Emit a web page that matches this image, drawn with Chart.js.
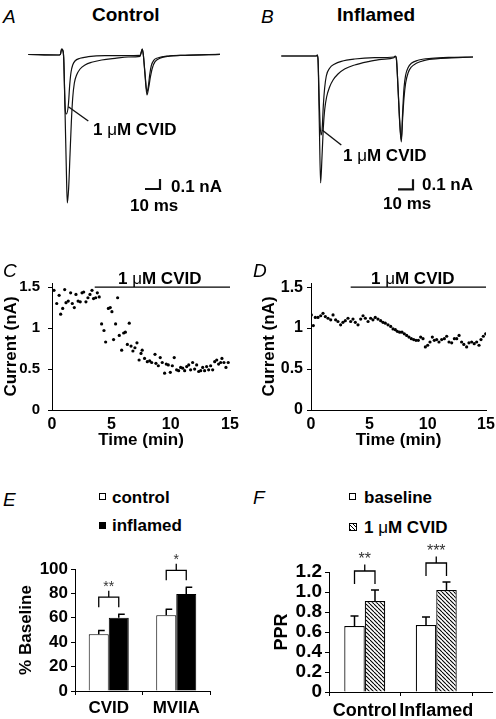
<!DOCTYPE html>
<html><head><meta charset="utf-8">
<script src="https://cdn.jsdelivr.net/npm/chart.js@4.4.1/dist/chart.umd.min.js"></script>
<style>
html,body{margin:0;padding:0;background:#fff;}
#page{position:relative;width:496px;height:719px;overflow:hidden;font-family:"Liberation Sans",Arial,Helvetica,sans-serif;color:#000;}
canvas{position:absolute;}
.t{position:absolute;white-space:nowrap;font-weight:bold;line-height:1;font-size:17px;}
.big{font-size:19px;}
.lt{position:absolute;font-style:italic;font-weight:normal;line-height:1;font-size:19px;}
.mu{font-weight:normal;}
.box{position:absolute;width:7px;height:7px;box-sizing:border-box;border:1px solid #000;background:#fff;}
</style></head><body><div id="page">
<canvas id="cA" width="200" height="170" style="left:25px;top:45px"></canvas>
<canvas id="cB" width="200" height="170" style="left:278px;top:45px"></canvas>
<canvas id="cC" width="245" height="195" style="left:0px;top:260px"></canvas>
<canvas id="cD" width="246" height="195" style="left:250px;top:260px"></canvas>
<canvas id="cE" width="230" height="179" style="left:0px;top:540px"></canvas>
<canvas id="cF" width="246" height="179" style="left:250px;top:540px"></canvas>

<div class="lt" style="left:3px;top:6.7px">A</div>
<div class="t big" style="left:92px;top:4.7px">Control</div>
<div class="lt" style="left:261px;top:6.7px">B</div>
<div class="t big" style="left:337px;top:4.7px">Inflamed</div>
<div class="t" style="left:93px;top:121.2px">1 <span class="mu">μ</span>M CVID</div>
<div class="t" style="left:171px;top:177.7px">0.1 nA</div>
<div class="t" style="left:130px;top:196.7px">10 ms</div>
<div class="t" style="left:343px;top:146.7px">1 <span class="mu">μ</span>M CVID</div>
<div class="t" style="left:422px;top:176.2px">0.1 nA</div>
<div class="t" style="left:383px;top:194.7px">10 ms</div>

<div class="lt" style="left:3px;top:260.7px">C</div>
<div class="lt" style="left:253px;top:260.7px">D</div>
<div class="t" style="left:118px;top:269.7px">1 <span class="mu">μ</span>M CVID</div>
<div class="t" style="left:371px;top:269.7px">1 <span class="mu">μ</span>M CVID</div>

<div class="lt" style="left:3px;top:489.7px">E</div>
<div class="lt" style="left:253px;top:488.2px">F</div>
<div class="box" style="left:99px;top:493px"></div>
<div class="t" style="left:112px;top:488.7px">control</div>
<div class="box" style="left:99px;top:522px;background:#000"></div>
<div class="t" style="left:112px;top:516.7px">inflamed</div>
<div class="box" style="left:349px;top:493px"></div>
<div class="t" style="left:364px;top:488.7px">baseline</div>
<div class="box" style="left:349px;top:523px;width:8px;height:8px;background:repeating-linear-gradient(45deg,#000 0 1px,#fff 1px 3px)"></div>
<div class="t" style="left:364px;top:518.7px">1 <span class="mu">μ</span>M CVID</div>
</div>
<script>
// ================= DATA =================
// Panel A traces: time (ms), current (nA)
const traceACtrlT = [2.2, 22.2, 23.6, 24.4, 25.1, 25.8, 26.7, 27.6, 28.2, 29.1, 30.0, 30.9, 31.8, 32.9, 34.4, 36.7, 40.0, 44.4, 51.1, 60.0, 68.9, 76.7, 77.6, 78.2, 78.9, 80.0, 81.3, 82.4, 83.6, 84.9, 86.7, 90.0, 95.6, 106.7, 130.0];
const traceACtrlI = [0.005, 0, 0.007, 0.06, 0.05, -0.03, -0.57, -1.17, -1.48, -1.33, -1.0, -0.67, -0.43, -0.28, -0.2, -0.14, -0.1, -0.073, -0.05, -0.033, -0.02, -0.013, 0.033, 0.06, 0, -0.2, -0.4, -0.33, -0.22, -0.13, -0.067, -0.033, -0.013, -0.003, 0.007];
const traceACvidT = [2.2, 22.2, 23.6, 24.4, 25.1, 25.8, 26.7, 27.6, 28.9, 29.8, 30.7, 31.8, 33.3, 36.7, 42.2, 53.3, 76.7, 77.6, 78.2, 78.9, 80.0, 81.3, 82.2, 83.1, 84.2, 85.8, 88.9, 95.6, 106.7, 130.0];
const traceACvidI = [0.005, 0, 0.007, 0.06, 0.05, -0.03, -0.5, -0.59, -0.5, -0.3, -0.17, -0.1, -0.06, -0.033, -0.017, -0.007, -0.003, 0.033, 0.06, 0, -0.183, -0.367, -0.317, -0.2, -0.107, -0.053, -0.027, -0.01, -0.003, 0.007];
// Panel B traces
const traceBCtrlT = [2.2, 25.6, 26.2, 26.7, 27.6, 28.4, 29.3, 30.2, 31.1, 32.4, 34.4, 36.7, 40.0, 44.4, 51.1, 60.0, 68.9, 77.3, 78.2, 78.9, 80.0, 81.1, 82.2, 83.1, 84.0, 85.1, 86.7, 88.9, 92.2, 97.8, 106.7, 120.0, 130.0];
const traceBCtrlI = [0, 0, 0.01, -0.04, -0.72, -1.27, -1.02, -0.72, -0.54, -0.41, -0.31, -0.24, -0.18, -0.13, -0.09, -0.057, -0.033, -0.017, -0.003, -0.023, -0.32, -0.66, -0.86, -0.62, -0.42, -0.27, -0.17, -0.11, -0.073, -0.043, -0.027, -0.017, -0.01];
const traceBCvidT = [2.2, 25.6, 26.2, 26.7, 27.6, 28.6, 29.4, 30.2, 31.1, 32.2, 34.4, 37.8, 42.2, 51.1, 64.4, 77.3, 78.2, 78.9, 80.0, 81.1, 82.2, 83.1, 84.0, 85.1, 86.7, 88.9, 93.3, 102.2, 115.6, 130.0];
const traceBCvidI = [0, 0, 0.01, -0.04, -0.5, -0.79, -0.74, -0.5, -0.32, -0.2, -0.123, -0.08, -0.053, -0.03, -0.017, -0.01, 0, -0.023, -0.31, -0.64, -0.84, -0.56, -0.32, -0.19, -0.117, -0.073, -0.043, -0.023, -0.013, -0.01];
// scale bars (10 ms, 0.1 nA) and label pointers
const scaleBarT = [80, 90, 90];
const scaleBarAI = [-1.34, -1.34, -1.24];
const scaleBarBI = [-1.333, -1.333, -1.233];
const pointerAT = [28.9, 42.2], pointerAI = [-0.517, -0.66];
const pointerBT = [29.4, 42.2], pointerBI = [-0.74, -0.89];

// Panel C: time (min), current (nA)
const timeC = [0.17,0.40,0.60,0.73,0.90, 1.07,1.18,1.37,1.57,1.71,1.88, 2.02,2.20,2.38,2.53,2.67,2.86,
  3.03,3.20,3.37,3.50,3.68,3.82,3.98, 4.18,4.38,4.52,4.75,4.91, 5.05,5.19,5.36,5.53,5.67,5.87,
  6.04,6.18,6.35,6.51,6.66,6.82,6.99, 7.16,7.34,7.50,7.60,7.80, 8.03,8.23,8.40,8.68,8.76,8.96,
  9.12,9.29,9.49,9.63,9.80,9.97, 10.14,10.30,10.50,10.67,10.84, 11.01,11.18,11.35,11.52,11.68,11.85,
  12.02,12.19,12.36,12.53,12.70,12.86, 13.03,13.20,13.37,13.54,13.71,13.88, 14.04,14.21,14.32,14.49,14.66,14.85];
const currentC = [1.46,1.30,1.40,1.17,1.24, 1.47,1.31,1.33,1.43,1.30,1.25, 1.41,1.33,1.32,1.43,1.44,1.32,
  1.37,1.41,1.46,1.36,1.37,1.43,1.38, 1.05,0.97,0.83,1.24,1.25, 1.20,0.86,1.05,1.37,0.91,0.73,
  0.94,0.95,0.80,1.06,0.78,0.72,0.76, 0.82,0.61,0.69,0.73,0.63, 0.59,0.60,0.58,0.68,0.57,0.54,
  0.64,0.58,0.45,0.56,0.55,0.46, 0.54,0.64,0.49,0.48,0.52, 0.51,0.48,0.53,0.55,0.49,0.58,
  0.50,0.55,0.47,0.48,0.52,0.48, 0.53,0.49,0.54,0.49,0.59,0.61, 0.56,0.58,0.63,0.58,0.52,0.58];
// Panel D
const timeD = [0.03,0.20,0.37,0.60,0.83, 1.03,1.23,1.46,1.69,1.89, 2.11,2.31,2.54,2.74,2.94, 3.17,3.40,3.60,3.80,
  4.03,4.26,4.46,4.66,4.89, 5.11,5.31,5.51,5.74,5.97, 6.17,6.37,6.60,6.83, 7.03,7.23,
  7.40,7.60,7.80,8.00,8.20,8.40,8.60,8.80,9.00,9.20, 9.40,9.60,9.80,10.00,10.20,10.40,10.57,10.77,10.97,
  11.20,11.43,11.63,11.83, 12.06,12.29,12.49,12.69,12.91, 13.10,13.34,13.54,13.77,13.99, 14.20,14.40,14.57,14.77,14.97];
const currentD = [1.16,1.03,1.13,1.13,1.15, 1.18,1.14,1.12,1.10,1.16, 1.10,1.08,1.04,1.07,1.09, 1.12,1.08,1.11,1.07,
  1.04,1.11,1.15,1.12,1.08, 1.12,1.10,1.13,1.11,1.09, 1.07,1.06,1.04,1.02, 0.99,0.98,
  0.96,0.95,0.95,0.93,0.91,0.89,0.87,0.86,0.85,0.85, 0.89,0.87,0.77,0.79,0.83,0.89,0.85,0.86,0.83,
  0.86,0.87,0.90,0.83, 0.82,0.87,0.87,0.91,0.83, 0.80,0.77,0.82,0.83,0.81, 0.83,0.79,0.86,0.90,0.93];
const drugC = [3.6, 15], drugD = [3.4, 15], drugLevel = 1.5;
const timeTickVals = [0, 5, 10, 15], timeTickLabels = ["0", "5", "10", "15"];
const currTickVals = [0, 0.5, 1, 1.5], currTickLabels = ["0", "0.5", "1", "1.5"];

// Panel E
const catE = ["CVID", "MVIIA"];
const controlE = [46.5, 62], controlErrE = [3, 5];
const inflamedE = [60, 79.5], inflamedErrE = [3, 5.5];
const sigE = ["**", "*"];
const tickValsE = [0, 20, 40, 60, 80, 100], tickLabelsE = ["0", "20", "40", "60", "80", "100"];
// Panel F
const catF = ["Control", "Inflamed"];
const baselineF = [0.66, 0.67], baselineErrF = [0.10, 0.08];
const cvidF = [0.91, 1.02], cvidErrF = [0.11, 0.08];
const sigF = ["**", "***"];
const tickValsF = [0, 0.2, 0.4, 0.6, 0.8, 1.0, 1.2], tickLabelsF = ["0", "0.2", "0.4", "0.6", "0.8", "1.0", "1.2"];

// ================= CHARTS =================
const FAM = '"Liberation Sans", Arial, Helvetica, sans-serif';
Chart.defaults.font.family = FAM;
Chart.defaults.font.weight = 'bold';
Chart.defaults.color = '#000';
Chart.defaults.layout.autoPadding = false;
Chart.defaults.animation = false;
Chart.defaults.responsive = false;
Chart.defaults.devicePixelRatio = 1;
Chart.defaults.events = [];
Chart.defaults.plugins.legend.display = false;
Chart.defaults.plugins.tooltip.enabled = false;

const zip = (xs, ys) => xs.map((x, k) => ({x, y: ys[k]}));
const lookup = (vals, labels) => (v) => { const k = vals.findIndex(a => Math.abs(a - v) < 1e-6); return k < 0 ? '' : labels[k]; };
const f = (size, weight) => ({family: FAM, size, weight: weight || 'bold'});

function traceChart(id, sets, yMin, yMax) {
  return new Chart(document.getElementById(id), {
    type: 'line',
    data: {datasets: sets.map(s => ({
      data: zip(s.t, s.i), borderColor: '#111', borderWidth: s.w, pointRadius: 0,
      cubicInterpolationMode: s.smooth ? 'monotone' : 'default', tension: 0, fill: false
    }))},
    options: {
      layout: {padding: 0},
      scales: {
        x: {type: 'linear', display: false, min: 0, max: 133.33},
        y: {type: 'linear', display: false, min: yMin, max: yMax}
      }
    }
  });
}
traceChart('cA', [
  {t: traceACtrlT, i: traceACtrlI, w: 1.2, smooth: true},
  {t: traceACvidT, i: traceACvidI, w: 1.2, smooth: true},
  {t: scaleBarT, i: scaleBarAI, w: 2.2},
  {t: pointerAT, i: pointerAI, w: 1.4}
], -1.6, 0.1);
traceChart('cB', [
  {t: traceBCtrlT, i: traceBCtrlI, w: 1.2, smooth: true},
  {t: traceBCvidT, i: traceBCvidI, w: 1.2, smooth: true},
  {t: scaleBarT, i: scaleBarBI, w: 2.2},
  {t: pointerBT, i: pointerBI, w: 1.4}
], -1.59, 0.11);

function timeCourse(id, t, cur, drug, o) {
  return new Chart(document.getElementById(id), {
    type: 'scatter',
    data: {datasets: [
      {data: zip(t, cur), pointRadius: 1.6, pointBackgroundColor: '#000', pointBorderWidth: 0},
      {data: drug.map(x => ({x, y: drugLevel})), showLine: true, borderColor: '#000', borderWidth: 1.3, pointRadius: 0}
    ]},
    options: {
      layout: {padding: {left: 0, top: 23, right: o.right, bottom: 0}},
      scales: {
        x: {
          type: 'linear', min: 0, max: 15,
          ticks: {stepSize: 5, font: f(16), color: '#000', padding: 5, maxRotation: 0, autoSkip: false, callback: lookup(timeTickVals, timeTickLabels)},
          grid: {display: false, drawTicks: false},
          border: {display: true, color: '#000', width: 1},
          title: {display: true, text: 'Time (min)', font: f(17), color: '#000', padding: {top: 0, bottom: 4.8}},
          afterFit(s) { s.height = 45; s.paddingLeft = 0; s.paddingRight = 0; }
        },
        y: {
          type: 'linear', min: 0, max: 1.55,
          ticks: {stepSize: 0.5, includeBounds: false, font: f(o.tickFont), color: '#000', padding: o.tickPad, autoSkip: false, callback: lookup(currTickVals, currTickLabels)},
          grid: {display: true, drawOnChartArea: false, drawTicks: true, tickLength: 4, color: '#000'},
          border: {display: true, color: '#000', width: 1},
          title: {display: true, text: 'Current (nA)', font: f(17), color: '#000', padding: {top: o.titlePad, bottom: 0}},
          afterFit(s) { s.width = o.yWidth; s.paddingTop = 0; s.paddingBottom = 0; }
        }
      }
    }
  });
}
timeCourse('cC', timeC, currentC, drugC, {right: 15, yWidth: 52, tickPad: 8, tickFont: 15, titlePad: 1.5});
timeCourse('cD', timeD, currentD, drugD, {right: 10, yWidth: 61, tickPad: 4, tickFont: 16, titlePad: 8.8});

const errorBarPlugin = {
  id: 'errbars',
  afterDatasetsDraw(chart, args, o) {
    const ctx = chart.ctx, ys = chart.scales.y;
    ctx.save();
    ctx.strokeStyle = '#000';
    ctx.lineWidth = o.lw;
    const tops = [];
    chart.data.datasets.forEach((ds, di) => {
      const meta = chart.getDatasetMeta(di);
      meta.data.forEach((bar, j) => {
        const yt = ys.getPixelForValue(ds.data[j] + o.errors[di][j]);
        ctx.beginPath();
        ctx.moveTo(bar.x, bar.y); ctx.lineTo(bar.x, yt);
        if (o.cap === 'right') { ctx.moveTo(bar.x - 0.6, yt); ctx.lineTo(bar.x + o.capW, yt); }
        else { ctx.moveTo(bar.x - o.capW / 2, yt); ctx.lineTo(bar.x + o.capW / 2, yt); }
        ctx.stroke();
        (tops[j] = tops[j] || []).push({x: bar.x, y: yt});
      });
    });
    ctx.lineWidth = o.blw;
    tops.forEach((arr, j) => {
      const x1 = arr[0].x, x2 = arr[arr.length - 1].x, xm = (x1 + x2) / 2;
      const yLeg = Math.min(...arr.map(p => p.y)) - o.gap;
      const yTop = yLeg - o.legH;
      ctx.beginPath();
      ctx.moveTo(x1, yLeg); ctx.lineTo(x1, yTop); ctx.lineTo(x2, yTop); ctx.lineTo(x2, yLeg);
      ctx.moveTo(xm, yTop); ctx.lineTo(xm, yTop - o.stemH);
      ctx.stroke();
      ctx.fillStyle = '#333';
      ctx.font = 'normal ' + o.starSize + 'px ' + FAM;
      ctx.textAlign = 'center';
      ctx.textBaseline = 'middle';
      ctx.fillText(o.sig[j], xm, yTop - o.stemH - o.starOff + o.starSize * 0.22);
    });
    ctx.restore();
  }
};
const axisExtend = {
  id: 'axisExtend',
  afterDraw(chart, args, o) {
    if (!o.extra) return;
    const {ctx, chartArea} = chart;
    const y = Math.round(chart.scales.y.getPixelForValue(0) - 0.5) + 0.5;
    ctx.save(); ctx.strokeStyle = '#000'; ctx.lineWidth = 1;
    ctx.beginPath(); ctx.moveTo(chartArea.right - 1, y); ctx.lineTo(chartArea.right + o.extra, y); ctx.stroke();
    ctx.restore();
  }
};

function barChart(id, cats, sets, o) {
  return new Chart(document.getElementById(id), {
    type: 'bar',
    data: {labels: cats, datasets: sets},
    options: {
      datasets: {bar: {categoryPercentage: o.catPct, barPercentage: 1}},
      layout: {padding: {left: 0, top: o.top, right: o.right, bottom: 0}},
      scales: {
        x: {
          ticks: {font: f(o.xFont), color: '#000', padding: o.xPad, maxRotation: 0, minRotation: 0, autoSkip: false},
          grid: {display: true, drawOnChartArea: false, drawTicks: true, tickLength: 4, color: '#000', offset: true},
          border: {display: true, color: '#000', width: 1},
          afterFit(s) { s.height = o.xHeight; s.paddingLeft = 0; s.paddingRight = 0; }
        },
        y: {
          min: 0, max: o.max,
          ticks: {stepSize: o.step, font: f(o.yFont), color: '#000', padding: 3, autoSkip: false, callback: lookup(o.tickVals, o.tickLabels)},
          grid: {display: true, drawOnChartArea: false, drawTicks: true, tickLength: 4, color: '#000'},
          border: {display: true, color: '#000', width: 1},
          title: {display: true, text: o.yTitle, font: f(o.titleFont), color: '#000', padding: {top: o.titlePad, bottom: 0}},
          afterFit(s) { s.width = o.yWidth; s.paddingTop = 0; s.paddingBottom = 0; }
        }
      },
      plugins: {errbars: o.err, axisExtend: {extra: o.extra || 0}}
    },
    plugins: [errorBarPlugin, axisExtend]
  });
}

barChart('cE', catE, [
  {data: controlE, backgroundColor: '#fff', borderColor: '#000', borderWidth: 1},
  {data: inflamedE, backgroundColor: '#000', borderColor: '#000', borderWidth: 1}
], {
  catPct: 0.593, top: 29, right: 20, xHeight: 28, xFont: 17, xPad: 3, max: 100, step: 20,
  tickVals: tickValsE, tickLabels: tickLabelsE, yFont: 17, yTitle: '% Baseline', titleFont: 17, titlePad: 15.8, yWidth: 75,
  err: {errors: [controlErrE, inflamedErrE], sig: sigE, cap: 'right', capW: 6, lw: 1.5, blw: 1.3, gap: 7, legH: 10, stemH: 6.5, starOff: 7, starSize: 14}
});

const hatch = (() => {
  const c = document.createElement('canvas'); c.width = 4; c.height = 4;
  const g = c.getContext('2d');
  g.fillStyle = '#fff'; g.fillRect(0, 0, 4, 4);
  g.strokeStyle = '#000'; g.lineWidth = 1.1;
  [-4, 0, 4].forEach(k => { g.beginPath(); g.moveTo(k, 0); g.lineTo(k + 4, 4); g.stroke(); });
  return document.getElementById('cF').getContext('2d').createPattern(c, 'repeat');
})();

barChart('cF', catF, [
  {data: baselineF, backgroundColor: '#fff', borderColor: '#000', borderWidth: 1.2},
  {data: cvidF, backgroundColor: hatch, borderColor: '#000', borderWidth: 1.2}
], {
  catPct: 0.573, top: 32, right: 24, xHeight: 27, xFont: 18, xPad: 4.2, max: 1.2, step: 0.2,
  tickVals: tickValsF, tickLabels: tickLabelsF, yFont: 19, yTitle: 'PPR', titleFont: 18, titlePad: 21.2, yWidth: 79, extra: 21,
  err: {errors: [baselineErrF, cvidErrF], sig: sigF, cap: 'center', capW: 8, lw: 1.5, blw: 1.3, gap: 6, legH: 13, stemH: 6.5, starOff: 8, starSize: 16}
});
</script>
</body></html>
